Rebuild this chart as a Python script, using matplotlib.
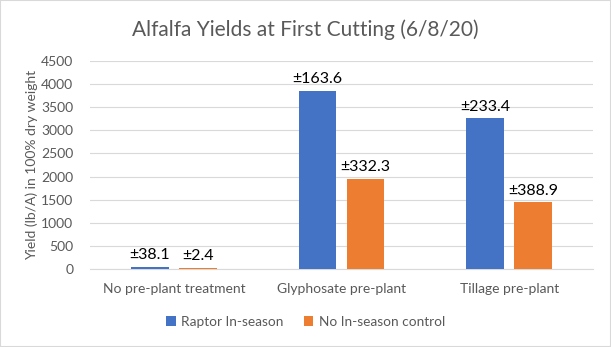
import numpy as np
import matplotlib.pyplot as plt
from matplotlib.patches import Rectangle

categories = ["No pre-plant treatment", "Glyphosate pre-plant", "Tillage pre-plant"]
raptor = [50, 3850, 3260]
control = [30, 1950, 1440]
raptor_err = ["±38.1", "±163.6", "±233.4"]
control_err = ["±2.4", "±332.3", "±388.9"]

plt.rcParams["font.family"] = ["Lato", "DejaVu Sans"]

fig = plt.figure(figsize=(6.11, 3.47), dpi=100)
ax = fig.add_axes([90 / 611, 1 - 269 / 347, 503 / 611, 208 / 347])

x = np.arange(len(categories))
w = 0.225
gap = 0.03
blue = "#4472C4"
orange = "#ED7D31"
b1 = ax.bar(x - w / 2 - gap, raptor, w, color=blue, label="Raptor In-season", zorder=3)
b2 = ax.bar(x + w / 2 + gap, control, w, color=orange, label="No In-season control", zorder=3)

for bars, labs in ((b1, raptor_err), (b2, control_err)):
    for rect, lab in zip(bars, labs):
        ax.text(rect.get_x() + rect.get_width() / 2, rect.get_height() + 100, lab,
                ha="center", va="bottom", fontsize=11.5, color="black")

ax.set_xlim(-0.5, 2.5)
ax.set_ylim(0, 4500)
ax.set_yticks(np.arange(0, 4501, 500))
ax.set_xticks(x)
ax.set_xticklabels(categories)
ax.tick_params(axis="both", length=0, labelsize=10, colors="#595959")
ax.tick_params(axis="x", pad=10)
ax.tick_params(axis="y", pad=12)
ax.grid(axis="y", color="#D9D9D9", lw=0.8, zorder=0)
for s in ["top", "right", "left"]:
    ax.spines[s].set_visible(False)
ax.spines["bottom"].set_color("#D9D9D9")
ax.set_ylabel("Yield (lb/A) in 100% dry weight", fontsize=10, color="#595959", labelpad=2)

fig.suptitle("Alfalfa Yields at First Cutting (6/8/20)", y=1 - 30 / 347, va="center",
             fontsize=15, color="#595959")
fig.legend(loc="center", bbox_to_anchor=(0.5, 1 - 322 / 347), ncol=2, frameon=False,
           fontsize=9.8, labelcolor="#595959", handlelength=0.7, handleheight=0.7,
           columnspacing=1.5, handletextpad=0.4)

fig.patches.append(Rectangle((0, 0), 1, 1, transform=fig.transFigure, fill=False,
                             edgecolor="#D9D9D9", lw=1.5))

fig.savefig("out.png", dpi=100)
